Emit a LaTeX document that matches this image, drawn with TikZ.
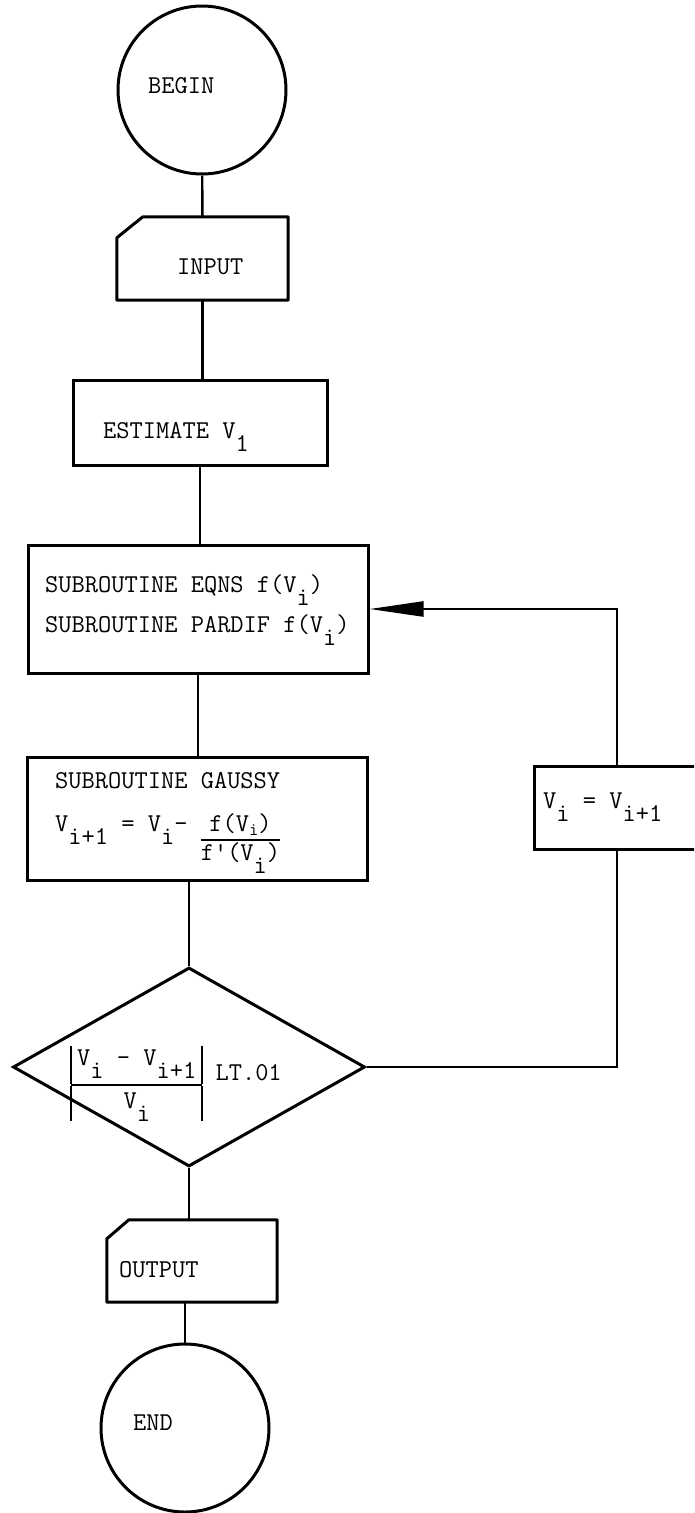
\documentclass[tikz,border=0pt]{standalone}
\usepackage{fontspec}
\usetikzlibrary{shapes.geometric,arrows.meta}
\setlength\arrayrulewidth{2.2pt}
\newcommand\sbs[1]{\raisebox{-13pt}{#1}}
\newcommand\sbsm[1]{\raisebox{-4pt}{\fontsize{18}{20}\selectfont #1}}
\newcommand\twf{\fontsize{25.7}{27}\selectfont\ttfamily\addfontfeatures{FakeBold=2.5}}
\begin{document}
\begin{tikzpicture}[x=1pt,y=-1pt,
  term/.style={circle, draw, line width=3pt, minimum size=168pt, inner sep=0pt},
  proc/.style={rectangle, draw, line width=3pt, inner sep=0pt},
  card/.style={rectangle, draw=none, inner sep=0pt},
  cardline/.style={line width=3pt, line join=round},
  decis/.style={diamond, draw, line width=3pt, inner sep=0pt},
  lbl/.style={anchor=base west, inner sep=0pt, font=\twf},
  conn/.style={line width=2.4pt}]
\useasboundingbox (0,0) rectangle (694,1513);
\clip (0,0) rectangle (694,1513);
\fill[white] (0,0) rectangle (694,1513);

% shapes
\node[term] (begin) at (202,90) {};
\node[card, minimum width=171pt, minimum height=83pt] (input) at (202.5,258.5) {};
\draw[cardline] (input.south west) -- (input.south east) -- (input.north east)
  -- ([xshift=26pt]input.north west) -- ([yshift=-21pt]input.north west) -- cycle;
\node[proc, minimum width=254pt, minimum height=85pt] (est) at (200,422.5) {};
\node[proc, minimum width=340pt, minimum height=128pt] (sub) at (198,609) {};
\node[proc, minimum width=340pt, minimum height=123pt] (gauss) at (197,818.5) {};
\node[decis, minimum width=352pt, minimum height=199pt] (dec) at (189,1067) {};
\node[card, minimum width=170pt, minimum height=82pt] (output) at (192,1261) {};
\draw[cardline] (output.south west) -- (output.south east) -- (output.north east)
  -- ([xshift=22pt]output.north west) -- ([yshift=-19pt]output.north west) -- cycle;
\node[term] (end) at (185,1428) {};
\node[proc, minimum width=166pt, minimum height=83pt] (upd) at (617,807.5) {};

% texts
\node[lbl] (tbegin) at (148,93) {BEGIN};
\node[lbl] (tinput) at (177,274) {INPUT};
\node[lbl] (test) at (103,438) {ESTIMATE V\sbs{1}};
\node[lbl] (tsub1) at (45,592) {SUBROUTINE EQNS f(V\sbs{i})};
\node[lbl] (tsub2) at (45,632) {SUBROUTINE PARDIF f(V\sbs{i})};
\node[lbl] (tgauss) at (55,788) {SUBROUTINE GAUSSY};
\node[lbl] (tform) at (55,831) {V\sbs{i+1} = V\sbs{i}- \begin{tabular}[t]{@{}c@{}}f(V\sbsm{i})\\\hline f'(V\sbs{i})\end{tabular}};
\node[lbl] (tupd) at (543,808) {V\sbs{i} = V\sbs{i+1}};
\node[lbl] (tcrit) at (71,1065) {\begin{tabular}[t]{|c|}V\sbs{i} - V\sbs{i+1}\rule[-19pt]{0pt}{0pt}\\\hline \rule{0pt}{22pt}V\sbs{i}\end{tabular}\raisebox{-15pt}{ LT.01}};
\node[lbl] (toutput) at (119,1277) {OUTPUT};
\node[lbl] (tend) at (133,1430) {END};

% connectors
\draw[conn] (begin) -- (input);
\draw[conn] (input.south) -- (input.south |- est.north);
\draw[conn] (est.south) -- (est.south |- sub.north);
\draw[conn] (sub.south) -- (sub.south |- gauss.north);
\draw[conn] (dec.north |- gauss.south) -- (dec.north);
\draw[conn] (dec.south) -- (dec.south |- output.north);
\draw[conn] (end.north |- output.south) -- (end.north);
\draw[conn] (dec.east) -| (upd.south);
\draw[conn, -{Triangle[length=54pt,width=15pt]}] (upd.north) |- (sub.east);
\end{tikzpicture}
\end{document}
